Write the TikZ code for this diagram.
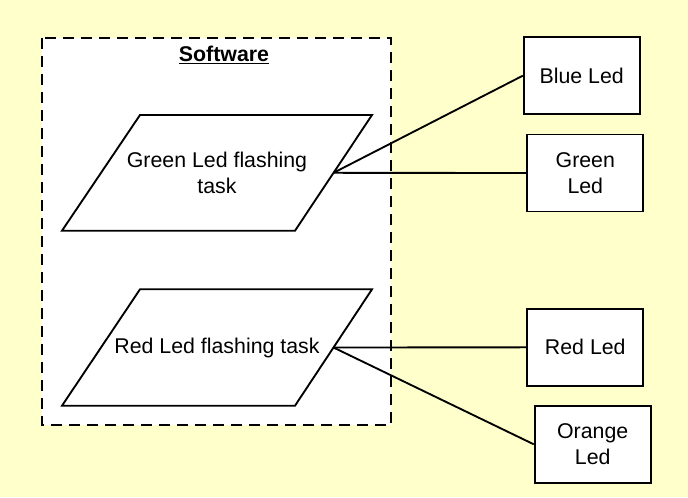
\documentclass[tikz,border=0pt]{standalone}
\usepackage{fontspec}
\setmainfont{Liberation Sans}
\usepackage{tikz}
\definecolor{bgyellow}{HTML}{FFFFCC}

\begin{document}
\begin{tikzpicture}[x=0.75pt,y=-0.75pt,line width=1.4pt,
                    font=\fontsize{16}{19.5}\selectfont,
                    task node/.style={align=center},
                    led node/.style={rectangle,draw,fill=white,minimum width=87pt,
                      minimum height=57.75pt,align=center}]
  \fill[bgyellow] (0,0) rectangle (688,497);
  \useasboundingbox (0,0) rectangle (688,497);
  \draw [fill=white,dash pattern=on 8.5pt off 5pt] (42,38) rectangle (391,425);
  \node (sw) at (224,55) {\textbf{\underline{Software}}};
  % parallelograms
  \draw [fill=white] (140,115) -- (372,115) -- (295,230.7) -- (62,230.7) -- cycle;
  \draw [fill=white] (140,289.3) -- (372,289.3) -- (295,405.7) -- (62,405.7) -- cycle;
  \node[task node] (green) at (217,172.8) {Green Led flashing\\task};
  \node[task node] (red) at (217,347.5) {Red Led flashing task};
  \coordinate (green port) at (333.5,172.8);
  \coordinate (red port) at (333.5,347.5);
  \node[led node] (blueled) at (581.7,75.7) {Blue Led};
  \node[led node] (greenled) at (585.3,173) {Green\\Led};
  \node[led node] (redled) at (585.3,347.3) {Red Led};
  \node[led node] (orangeled) at (592.7,444.3) {Orange\\Led};
  \path (green port) edge (blueled.west)
        (green port) edge (greenled.west)
        (red port) edge (redled.west)
        (red port) edge (orangeled.west);
\end{tikzpicture}
\end{document}
